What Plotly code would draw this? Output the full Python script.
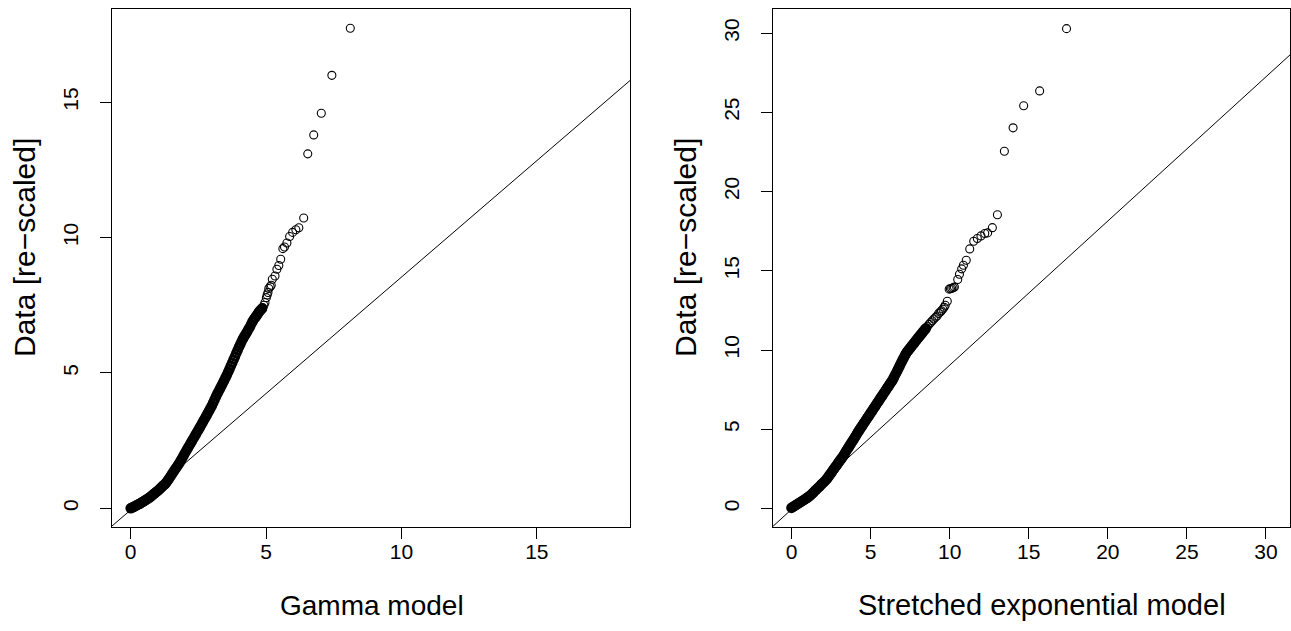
import plotly.graph_objects as go

# ---------------- data ----------------
# Left panel: Gamma model QQ plot (dense body of the sample)
gamma_dense_x = [0.00, 0.05, 0.10, 0.15, 0.20, 0.25, 0.30, 0.35, 0.40, 0.45, 0.50, 0.55, 0.60, 0.65, 0.70,
                 0.75, 0.80, 0.85, 0.90, 0.95, 1.00, 1.05, 1.10, 1.15, 1.20, 1.25, 1.30, 1.35, 1.40, 1.45,
                 1.50, 1.55, 1.60, 1.65, 1.70, 1.75, 1.80, 1.85, 1.90, 1.95, 2.00, 2.05, 2.10, 2.15, 2.20,
                 2.25, 2.30, 2.35, 2.40, 2.45, 2.50, 2.55, 2.60, 2.65, 2.70, 2.75, 2.80, 2.85, 2.90, 2.95,
                 3.00, 3.05, 3.10, 3.15, 3.20, 3.25, 3.30, 3.35, 3.40, 3.45, 3.50, 3.55, 3.60, 3.65, 3.70,
                 3.75, 3.80, 3.85, 3.90, 3.95, 4.00, 4.05, 4.10, 4.15, 4.20, 4.25, 4.30, 4.35, 4.40, 4.45,
                 4.50, 4.55, 4.60, 4.65, 4.70, 4.75, 4.80, 4.85]
gamma_dense_y = [0.000, 0.026, 0.051, 0.077, 0.103, 0.129, 0.154, 0.180, 0.211, 0.243, 0.274, 0.306, 0.337, 0.369, 0.400,
                 0.442, 0.483, 0.525, 0.567, 0.608, 0.650, 0.697, 0.744, 0.791, 0.838, 0.884, 0.931, 0.996, 1.072, 1.148,
                 1.224, 1.300, 1.375, 1.450, 1.525, 1.600, 1.675, 1.762, 1.851, 1.941, 2.030, 2.120, 2.206, 2.292, 2.378,
                 2.464, 2.550, 2.636, 2.722, 2.808, 2.894, 2.980, 3.070, 3.159, 3.249, 3.338, 3.430, 3.521, 3.614, 3.707,
                 3.800, 3.909, 4.019, 4.128, 4.228, 4.326, 4.424, 4.521, 4.621, 4.723, 4.826, 4.928, 5.033, 5.149, 5.265,
                 5.380, 5.496, 5.610, 5.725, 5.840, 5.954, 6.060, 6.167, 6.267, 6.353, 6.439, 6.525, 6.611, 6.700, 6.800,
                 6.900, 6.978, 7.050, 7.122, 7.194, 7.266, 7.323, 7.378]
# Left panel: upper tail
gamma_tail_x = [4.88, 4.92, 4.96, 5.01, 5.04, 5.07, 5.10, 5.15, 5.19, 5.23, 5.33, 5.40, 5.47, 5.54, 5.62,
                5.68, 5.77, 5.87, 5.98, 6.10, 6.21, 6.39, 6.54, 6.76, 7.04, 7.43, 8.11]
gamma_tail_y = [7.41, 7.50, 7.60, 7.78, 7.88, 7.97, 8.12, 8.18, 8.24, 8.46, 8.58, 8.83, 8.97, 9.20, 9.59,
                9.65, 9.80, 10.04, 10.19, 10.29, 10.36, 10.72, 13.09, 13.79, 14.59, 15.99, 17.73]

# Right panel: Stretched exponential model QQ plot (dense body)
stexp_dense_x = [0.00, 0.10, 0.20, 0.30, 0.40, 0.50, 0.60, 0.70, 0.80, 0.90, 1.00, 1.10, 1.20, 1.30, 1.40,
                 1.50, 1.60, 1.70, 1.80, 1.90, 2.00, 2.10, 2.20, 2.27, 2.34, 2.41, 2.48, 2.55, 2.62, 2.69,
                 2.76, 2.83, 2.90, 2.97, 3.04, 3.11, 3.18, 3.25, 3.32, 3.39, 3.46, 3.53, 3.60, 3.67, 3.74,
                 3.81, 3.88, 3.95, 4.02, 4.09, 4.16, 4.23, 4.30, 4.37, 4.44, 4.51, 4.58, 4.65, 4.72, 4.79,
                 4.86, 4.93, 5.00, 5.07, 5.14, 5.21, 5.28, 5.35, 5.42, 5.49, 5.56, 5.63, 5.70, 5.77, 5.84,
                 5.91, 5.98, 6.05, 6.12, 6.19, 6.26, 6.33, 6.40, 6.47, 6.54, 6.61, 6.68, 6.75, 6.82, 6.89,
                 6.96, 7.03, 7.10, 7.17, 7.24, 7.31, 7.38, 7.45, 7.52, 7.59, 7.66, 7.73, 7.80, 7.87, 7.94,
                 8.01, 8.08, 8.15, 8.22, 8.29, 8.36, 8.43, 8.50]
stexp_dense_y = [0.040, 0.104, 0.169, 0.233, 0.297, 0.362, 0.426, 0.490, 0.554, 0.619, 0.683, 0.748, 0.830, 0.929, 1.028,
                 1.127, 1.226, 1.325, 1.424, 1.523, 1.622, 1.721, 1.820, 1.914, 2.012, 2.110, 2.208, 2.306, 2.404, 2.502,
                 2.600, 2.698, 2.796, 2.894, 2.992, 3.090, 3.188, 3.286, 3.396, 3.508, 3.620, 3.732, 3.844, 3.956, 4.068,
                 4.180, 4.292, 4.404, 4.516, 4.628, 4.740, 4.852, 4.964, 5.070, 5.176, 5.281, 5.386, 5.492, 5.597, 5.702,
                 5.808, 5.913, 6.018, 6.124, 6.229, 6.334, 6.440, 6.545, 6.650, 6.756, 6.861, 6.966, 7.072, 7.177, 7.282,
                 7.388, 7.493, 7.598, 7.704, 7.809, 7.914, 8.020, 8.125, 8.260, 8.400, 8.540, 8.680, 8.820, 8.960, 9.100,
                 9.240, 9.380, 9.515, 9.648, 9.782, 9.884, 9.972, 10.061, 10.150, 10.239, 10.328, 10.417, 10.506, 10.595, 10.682,
                 10.769, 10.856, 10.942, 11.028, 11.115, 11.202, 11.288, 11.375]
# Right panel: upper tail
stexp_tail_x = [8.60, 8.70, 8.80, 8.90, 9.00, 9.10, 9.20, 9.30, 9.40, 9.48, 9.57, 9.65, 9.72, 9.85,
                9.97, 10.05, 10.13, 10.22, 10.30, 10.51, 10.62, 10.76, 10.87, 11.05, 11.27, 11.52, 11.75,
                11.98, 12.22, 12.40, 12.70, 13.02, 13.46, 14.01, 14.68, 15.69, 17.39]
stexp_tail_y = [11.50, 11.62, 11.74, 11.85, 11.96, 12.06, 12.15, 12.30, 12.40, 12.48, 12.58, 12.70, 12.82, 13.08,
                13.84, 13.87, 13.90, 13.93, 13.97, 14.45, 14.78, 15.12, 15.35, 15.66, 16.38, 16.86, 17.04,
                17.20, 17.35, 17.39, 17.72, 18.54, 22.54, 24.02, 25.41, 26.35, 30.28]

# reference lines (intercept, slope)
gamma_line = (-0.06, 0.86)
stexp_line = (-0.06, 0.91)

# axis settings
gamma_range = [-0.69, 18.44]
stexp_range = [-1.17, 31.52]
gamma_ticks = [0, 5, 10, 15]
stexp_ticks = [0, 5, 10, 15, 20, 25, 30]
x_titles = ["Gamma model", "Stretched exponential model"]
y_title = "Data [re\u2212scaled]"

# ---------------- figure ----------------
W, H = 1291, 631
FONT = "Liberation Sans, Arial, Helvetica, sans-serif"

def px_x(p):
    return p / W

def px_y(p):
    return 1 - p / H

fig = go.Figure()

panels = [
    dict(xa="x", ya="y", dense=(gamma_dense_x, gamma_dense_y), tail=(gamma_tail_x, gamma_tail_y),
         line=gamma_line, rng=gamma_range),
    dict(xa="x2", ya="y2", dense=(stexp_dense_x, stexp_dense_y), tail=(stexp_tail_x, stexp_tail_y),
         line=stexp_line, rng=stexp_range),
]

for p in panels:
    b, m = p["line"]
    lx = [p["rng"][0], p["rng"][1]]
    fig.add_trace(go.Scatter(x=lx, y=[b + m * v for v in lx], mode="lines",
                             line=dict(color="black", width=1), xaxis=p["xa"], yaxis=p["ya"],
                             showlegend=False, hoverinfo="skip"))
    fig.add_trace(go.Scatter(x=p["dense"][0], y=p["dense"][1], mode="markers",
                             marker=dict(symbol="circle-open", size=8, color="black",
                                         line=dict(width=2.6, color="black")),
                             xaxis=p["xa"], yaxis=p["ya"], showlegend=False))
    fig.add_trace(go.Scatter(x=p["tail"][0], y=p["tail"][1], mode="markers",
                             marker=dict(symbol="circle-open", size=8, color="black",
                                         line=dict(width=1.1, color="black")),
                             xaxis=p["xa"], yaxis=p["ya"], showlegend=False))

axis_common = dict(showgrid=False, zeroline=False, showline=True, linecolor="black", linewidth=1,
                   mirror=True, ticks="outside", ticklen=11, tickwidth=1, tickcolor="black",
                   tickfont=dict(family=FONT, size=21, color="black"))

box_top, box_bottom = 9, 527
left_box = (112, 630)
right_box = (773, 1290)

fig.update_layout(
    width=W, height=H,
    margin=dict(l=0, r=0, t=0, b=0),
    paper_bgcolor="white", plot_bgcolor="white",
    font=dict(family=FONT, color="black"),
    xaxis=dict(domain=[px_x(left_box[0]), px_x(left_box[1])], range=gamma_range,
               tickvals=gamma_ticks, ticklabelstandoff=-5, **axis_common),
    yaxis=dict(domain=[px_y(box_bottom), px_y(box_top)], range=gamma_range,
               tickvals=gamma_ticks, tickangle=-90, ticklabelstandoff=14, **axis_common),
    xaxis2=dict(domain=[px_x(right_box[0]), px_x(right_box[1])], range=stexp_range,
                tickvals=stexp_ticks, ticklabelstandoff=-5, anchor="y2", **axis_common),
    yaxis2=dict(domain=[px_y(box_bottom), px_y(box_top)], range=stexp_range,
                tickvals=stexp_ticks, tickangle=-90, ticklabelstandoff=14, anchor="x2", **axis_common),
)

annots = [
    dict(text=x_titles[0], x=px_x(372), y=px_y(605), xref="paper", yref="paper",
         xanchor="center", yanchor="middle", showarrow=False,
         font=dict(family=FONT, size=28, color="black")),
    dict(text=x_titles[1], x=px_x(1042), y=px_y(605), xref="paper", yref="paper",
         xanchor="center", yanchor="middle", showarrow=False,
         font=dict(family=FONT, size=29, color="black")),
]
for lb in (left_box[0], right_box[0]):
    annots.append(dict(text=y_title, x=px_x(lb - 87), y=px_y(248), xref="paper", yref="paper",
                       xanchor="center", yanchor="middle", showarrow=False, textangle=-90,
                       font=dict(family=FONT, size=30, color="black")))
fig.update_layout(annotations=annots)

# remove the default page margin so the figure sits at the window origin
fig.write_html("out.html", config={"displayModeBar": False},
               post_script="document.body.style.margin='0';document.body.style.overflow='hidden';")
